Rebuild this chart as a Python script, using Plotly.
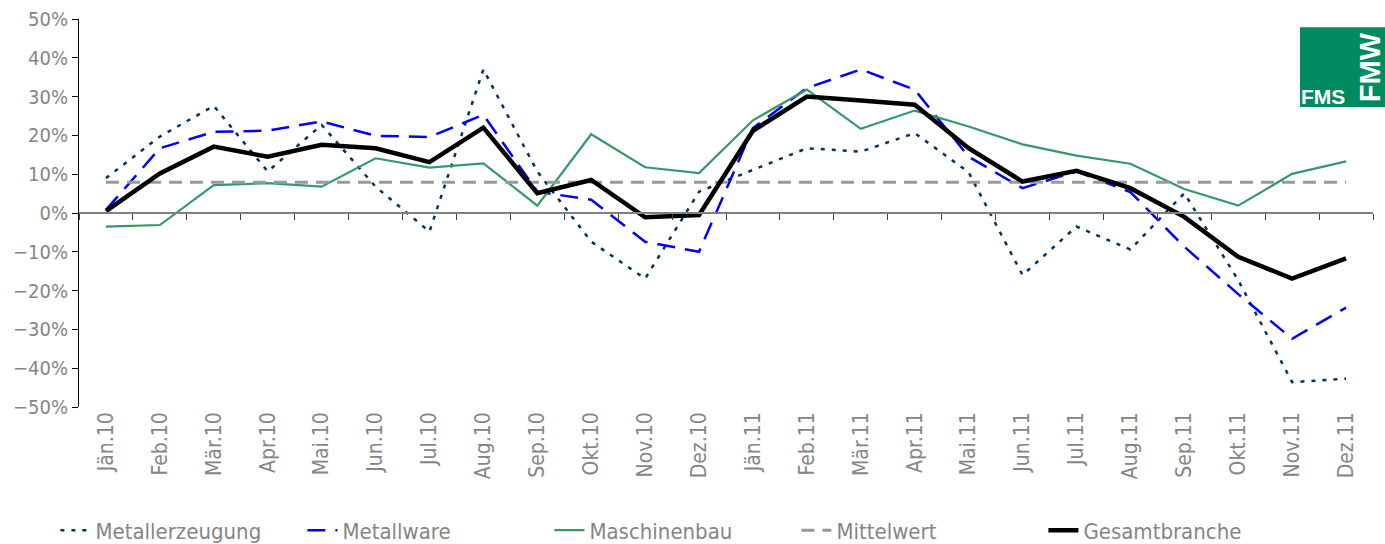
import plotly.graph_objects as go

months = ["Jän.10","Feb.10","Mär.10","Apr.10","Mai.10","Jun.10","Jul.10","Aug.10","Sep.10","Okt.10","Nov.10","Dez.10",
          "Jän.11","Feb.11","Mär.11","Apr.11","Mai.11","Jun.11","Jul.11","Aug.11","Sep.11","Okt.11","Nov.11","Dez.11"]

metallerzeugung = [9.0, 19.7, 27.6, 10.7, 22.7, 6.8, -4.8, 37.0, 10.7, -7.4, -16.9, 5.5,
                   11.1, 16.7, 15.8, 20.6, 10.5, -16.0, -3.5, -9.4, 5.1, -17.3, -43.6, -42.7]
metallware = [0.8, 16.7, 20.9, 21.2, 23.6, 19.9, 19.6, 25.3, 5.5, 3.4, -7.4, -10.0,
              21.9, 32.2, 37.0, 31.8, 14.5, 6.4, 10.7, 5.4, -8.7, -20.9, -32.4, -24.4]
maschinenbau = [-3.5, -3.1, 7.2, 7.7, 6.8, 14.1, 11.7, 12.8, 1.9, 20.3, 11.8, 10.3,
                23.9, 31.8, 21.7, 26.4, 22.3, 17.7, 14.8, 12.7, 6.2, 1.9, 10.1, 13.3]
mittelwert = [7.9] * 24
gesamtbranche = [0.5, 10.2, 17.1, 14.5, 17.6, 16.7, 13.1, 22.0, 5.1, 8.5, -1.1, -0.5,
                 21.2, 30.0, 29.0, 27.9, 16.7, 8.1, 10.9, 6.4, -1.0, -11.3, -16.9, -11.7]

FONT = "DejaVu Sans Condensed, Liberation Sans Narrow, DejaVu Sans, sans-serif"
GRAY = "#858585"

fig = go.Figure()
fig.add_trace(go.Scatter(x=months, y=metallerzeugung, name="Metallerzeugung", mode="lines",
                         line=dict(color="#003366", width=2.5, dash="4px,7px")))
fig.add_trace(go.Scatter(x=months, y=metallware, name="Metallware", mode="lines",
                         line=dict(color="#0000FF", width=2.5, dash="18px,10px")))
fig.add_trace(go.Scatter(x=months, y=maschinenbau, name="Maschinenbau", mode="lines",
                         line=dict(color="#339966", width=2.2)))
fig.add_trace(go.Scatter(x=months, y=mittelwert, name="Mittelwert", mode="lines",
                         line=dict(color="#999999", width=3, dash="13px,8px")))
fig.add_trace(go.Scatter(x=months, y=gesamtbranche, name="Gesamtbranche", mode="lines",
                         line=dict(color="#000000", width=4.5)))
# invisible trace on overlay axis to show tick marks at the zero line
fig.add_trace(go.Scatter(x=months, y=[None]*24, xaxis="x2", showlegend=False, hoverinfo="skip"))

fig.update_layout(
    width=1385, height=544,
    margin=dict(l=79, r=12, t=19, b=137, autoexpand=False),
    paper_bgcolor="white", plot_bgcolor="white",
    font=dict(family=FONT, size=19, color=GRAY),
    xaxis=dict(type="category", showline=False, ticks="", showgrid=False, zeroline=False,
               tickangle=-90, tickfont=dict(size=21, color=GRAY), range=[-0.5, 23.5],
               automargin=False),
    xaxis2=dict(type="category", overlaying="x", anchor="free", position=0.5, side="bottom",
                showline=True, linecolor="#808080", linewidth=1.5, ticks="outside",
                tickson="boundaries", ticklen=6, tickcolor="#404040", showticklabels=False,
                showgrid=False, range=[-0.5, 23.5], matches="x", automargin=False),
    yaxis=dict(range=[-50, 50], dtick=10, ticksuffix="%", showline=True, linecolor="black",
               linewidth=1, ticks="outside", ticklen=6, tickcolor="black", showgrid=False,
               zeroline=False, tickfont=dict(size=20, color=GRAY), automargin=False),
    legend=dict(orientation="h", xref="container", yref="container", x=0.04, y=0.025,
                xanchor="left", yanchor="middle", entrywidth=202,
                font=dict(size=22, color=GRAY), bgcolor="rgba(0,0,0,0)"),
    showlegend=True,
)

# logo
fig.add_shape(type="rect", xref="paper", yref="paper", x0=0.9436, x1=1.0093, y0=0.773, y1=0.979,
              fillcolor="#008A60", line=dict(width=0), layer="above")
fig.add_annotation(xref="paper", yref="paper", x=0.9614, y=0.8015, xanchor="center", yanchor="middle",
                   text="<b>FMS</b>", showarrow=False,
                   font=dict(family="Liberation Sans, Arial, sans-serif", size=21, color="white"))
fig.add_annotation(xref="paper", yref="paper", x=0.9977, y=0.876, xanchor="center", yanchor="middle",
                   text="<b>FMW</b>", textangle=-90, showarrow=False,
                   font=dict(family="Liberation Sans, Arial, sans-serif", size=29, color="white"))

fig.write_html("out.html", config={"displayModeBar": False},
               post_script="document.body.style.margin='0px';document.body.style.overflow='hidden';")
